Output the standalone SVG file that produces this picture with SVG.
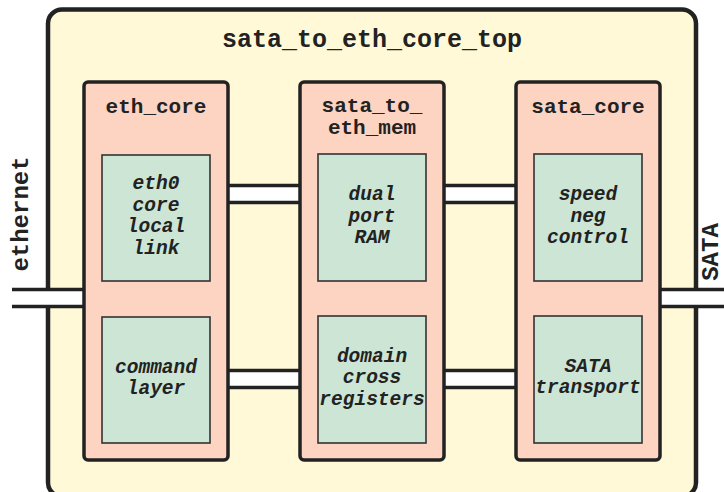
<svg xmlns="http://www.w3.org/2000/svg" width="724" height="492" viewBox="0 0 724 492">
  <style>
    .top { fill: #FFF9D7; stroke: #222; stroke-width: 4.5; }
    .mod { fill: #FDD3C1; stroke: #222; stroke-width: 3.5; }
    .blk { fill: #CCE5D5; stroke: #333; stroke-width: 1.6; }
    .bus { fill: #FFFFFF; stroke: none; }
    .rail { stroke: #222; stroke-width: 3.5; fill: none; }
    .title { font-family: "Liberation Mono", "DejaVu Sans Mono", monospace; font-weight: bold; font-size: 25px; fill: #222; text-anchor: middle; }
    .name { font-family: "Liberation Mono", "DejaVu Sans Mono", monospace; font-weight: bold; font-size: 21px; fill: #222; text-anchor: middle; }
    .port { font-family: "Liberation Mono", "DejaVu Sans Mono", monospace; font-weight: bold; font-size: 24px; fill: #222; text-anchor: middle; }
    .func { font-family: "Liberation Mono", "DejaVu Sans Mono", monospace; font-weight: bold; font-style: italic; font-size: 19.5px; fill: #222; text-anchor: middle; }
  </style>

  <!-- top-level wrapper -->
  <g id="sata_to_eth_core_top">
    <rect class="top" x="48" y="9.5" width="648" height="487" rx="14"/>
    <text class="title" x="372" y="47">sata_to_eth_core_top</text>
  </g>

  <!-- buses between modules and to the outside ports -->
  <g id="connectors">
    <!-- ethernet port -->
    <rect class="bus" x="10" y="290" width="74" height="16"/>
    <path class="rail" d="M12 289.5 H84 M12 306.5 H84"/>
    <!-- SATA port -->
    <rect class="bus" x="660" y="290" width="66" height="16"/>
    <path class="rail" d="M660 289.5 H726 M660 306.5 H726"/>
    <!-- eth_core to sata_to_eth_mem -->
    <rect class="bus" x="228" y="186" width="72" height="16"/>
    <path class="rail" d="M228 185.5 H300 M228 202.5 H300"/>
    <rect class="bus" x="228" y="371" width="72" height="16"/>
    <path class="rail" d="M228 370.5 H300 M228 387.5 H300"/>
    <!-- sata_to_eth_mem to sata_core -->
    <rect class="bus" x="444" y="186" width="72" height="16"/>
    <path class="rail" d="M444 185.5 H516 M444 202.5 H516"/>
    <rect class="bus" x="444" y="371" width="72" height="16"/>
    <path class="rail" d="M444 370.5 H516 M444 387.5 H516"/>
  </g>

  <!-- port labels -->
  <text class="port" transform="translate(28 214) rotate(-90)" x="0" y="0">ethernet</text>
  <text class="port" transform="translate(718 252) rotate(-90)" x="0" y="0">SATA</text>

  <g id="eth_core">
    <rect class="mod" x="84" y="82" width="144" height="378" rx="4"/>
    <text class="name" x="156" y="113">eth_core</text>
  </g>
  <g id="eth0_core_local_link">
    <rect class="blk" x="102" y="155" width="108" height="126"/>
    <text class="func" x="156" y="189">eth0</text>
    <text class="func" x="156" y="210.5">core</text>
    <text class="func" x="156" y="232">local</text>
    <text class="func" x="156" y="253.5">link</text>
  </g>
  <g id="command_layer">
    <rect class="blk" x="102" y="317" width="108" height="126"/>
    <text class="func" x="156" y="372.5">command</text>
    <text class="func" x="156" y="394">layer</text>
  </g>

  <g id="sata_to_eth_mem">
    <rect class="mod" x="300" y="82" width="144" height="378" rx="4"/>
    <text class="name" x="372" y="112">sata_to_</text>
    <text class="name" x="372" y="134">eth_mem</text>
  </g>
  <g id="dual_port_ram">
    <rect class="blk" x="318" y="154" width="108" height="127"/>
    <text class="func" x="372" y="200">dual</text>
    <text class="func" x="372" y="221.5">port</text>
    <text class="func" x="372" y="243">RAM</text>
  </g>
  <g id="domain_cross_registers">
    <rect class="blk" x="318" y="316" width="108" height="127"/>
    <text class="func" x="372" y="361.5">domain</text>
    <text class="func" x="372" y="383">cross</text>
    <text class="func" x="372" y="404.5">registers</text>
  </g>

  <g id="sata_core">
    <rect class="mod" x="516" y="82" width="144" height="378" rx="4"/>
    <text class="name" x="588" y="113">sata_core</text>
  </g>
  <g id="speed_neg_control">
    <rect class="blk" x="534" y="154" width="108" height="127"/>
    <text class="func" x="588" y="200">speed</text>
    <text class="func" x="588" y="221.5">neg</text>
    <text class="func" x="588" y="243">control</text>
  </g>
  <g id="sata_transport">
    <rect class="blk" x="534" y="316" width="108" height="127"/>
    <text class="func" x="588" y="372">SATA</text>
    <text class="func" x="588" y="393">transport</text>
  </g>
</svg>
